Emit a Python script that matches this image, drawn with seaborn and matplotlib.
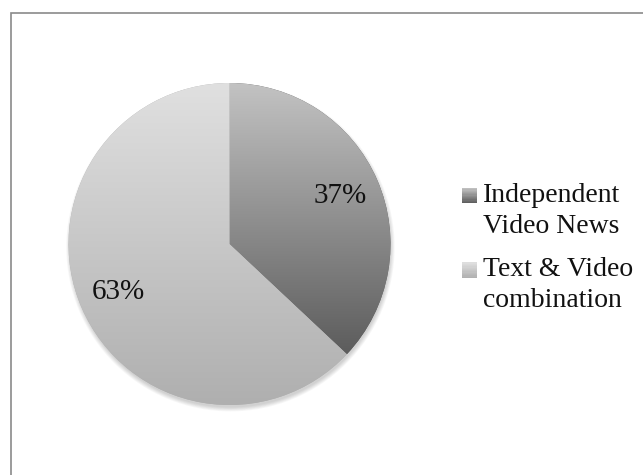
import numpy as np
import matplotlib
matplotlib.use("Agg")
import matplotlib.pyplot as plt
import seaborn as sns
from matplotlib.colors import LinearSegmentedColormap
from matplotlib.patches import Rectangle, Circle
from matplotlib.legend_handler import HandlerPatch

# Share of video news formats
categories = ["Independent\nVideo News", "Text & Video\ncombination"]
shares = [37, 63]

# Vertical gradient (top colour, bottom colour) for each slice
gradients = [("#c3c3c3", "#5c5c5c"), ("#e0e0e0", "#afafaf")]

sns.set_theme(style="white")
plt.rcParams["font.family"] = ["Liberation Serif", "DejaVu Serif"]

W, H = 643, 475
fig = plt.figure(figsize=(W / 100, H / 100), dpi=100)
fig.patch.set_facecolor("white")

# Chart frame (runs past the right and bottom edges)
fig.add_artist(Rectangle((11 / W, -0.2), 2.0, 1.2 - 12.5 / H,
                         transform=fig.transFigure, fill=False,
                         edgecolor="#8a8a8a", linewidth=1.2))

cx, cy, r = 229.5, 244, 161
ax = fig.add_axes([(cx - r) / W, (H - cy - r) / H, 2 * r / W, 2 * r / H])
ax.set_facecolor("none")

# Soft drop shadow, mostly below the pie
for i in range(6):
    ax.add_patch(Circle((0.006, -0.02), 0.995 + 0.005 * i, facecolor="black",
                        alpha=0.03, linewidth=0, zorder=0.5, clip_on=False))

wedges, _, autotexts = ax.pie(
    shares, startangle=90, counterclock=False, radius=1.0,
    colors=[g[1] for g in gradients], autopct="%1.0f%%", pctdistance=0.75,
    wedgeprops=dict(linewidth=0),
    textprops=dict(fontsize=21, color="#111111"),
)

# Fill each wedge with its vertical gradient
for wedge, (top, bottom) in zip(wedges, gradients):
    ext = wedge.get_path().get_extents(wedge.get_transform() + ax.transData.inverted())
    cmap = LinearSegmentedColormap.from_list("g", [top, bottom])
    grad = np.linspace(0, 1, 256)[:, None]
    im = ax.imshow(grad, cmap=cmap, extent=(-1, 1, ext.y0, ext.y1),
                   aspect="auto", zorder=1.5, interpolation="bilinear")
    im.set_clip_path(wedge)

for t in autotexts:
    t.set_zorder(3)

ax.set_xlim(-1, 1)
ax.set_ylim(-1, 1)
ax.set_aspect("equal")
ax.axis("off")


class GradientSquare(HandlerPatch):
    """Legend key drawn as a small square with a vertical gradient, aligned to the first text line."""

    def __init__(self, top, bottom, shift, **kw):
        super().__init__(**kw)
        self.top, self.bottom, self.shift = top, bottom, shift

    def create_artists(self, legend, orig_handle, xdescent, ydescent,
                       width, height, fontsize, trans):
        cmap = LinearSegmentedColormap.from_list("g", [self.top, self.bottom])
        n = 12
        side = height
        y0 = -ydescent + self.shift * fontsize
        arts = []
        for k in range(n):
            c = cmap(1 - (k + 0.5) / n)
            arts.append(Rectangle((-xdescent, y0 + k * side / n), side, side / n + 0.05,
                                  facecolor=c, edgecolor="none", transform=trans))
        return arts


handles = [Rectangle((0, 0), 1, 1) for _ in categories]
handler_map = {h: GradientSquare(g[0], g[1], 0.53) for h, g in zip(handles, gradients)}
leg = fig.legend(handles, categories, handler_map=handler_map,
                 loc="center left", bbox_to_anchor=(462 / W, 1 - 248 / H),
                 frameon=False, fontsize=20, handlelength=0.47, handleheight=0.47,
                 handletextpad=0.3, labelspacing=0.65, borderpad=0, borderaxespad=0)
for t in leg.get_texts():
    t.set_linespacing(1.34)
    t.set_color("#111111")

fig.savefig("out.png", dpi=100, facecolor="white")
